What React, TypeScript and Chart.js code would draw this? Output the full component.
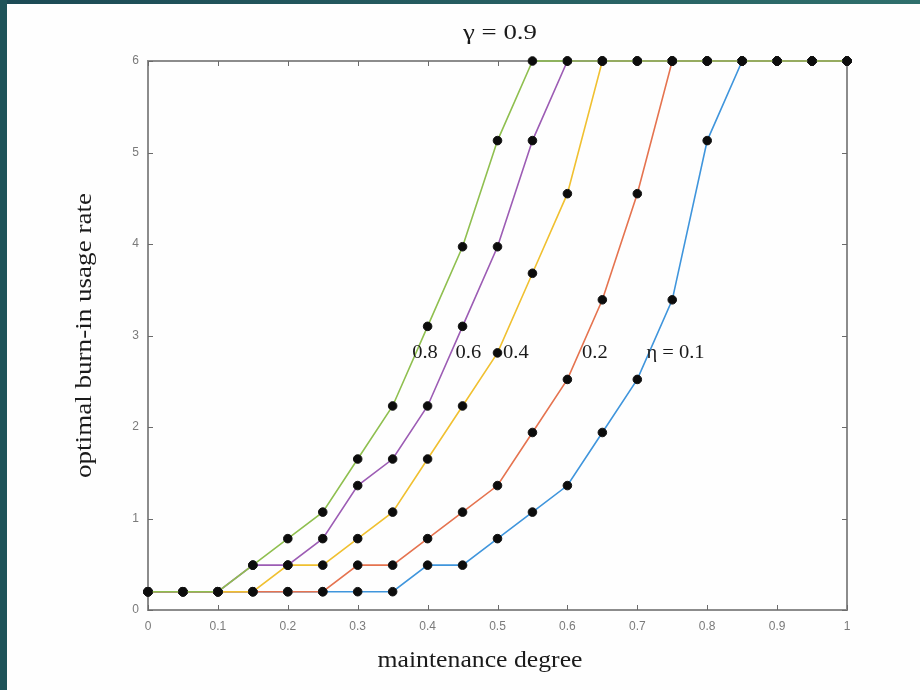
import React, { useEffect, useRef } from "react";
import { Chart, registerables } from "chart.js";

Chart.register(...registerables);

// ---- data ----
const xValues = [0, 0.05, 0.1, 0.15, 0.2, 0.25, 0.3, 0.35, 0.4, 0.45, 0.5, 0.55, 0.6, 0.65, 0.7, 0.75, 0.8, 0.85, 0.9, 0.95, 1];
const eta08 = [0.2, 0.2, 0.2, 0.49, 0.78, 1.07, 1.65, 2.23, 3.1, 3.97, 5.13, 6, 6, 6, 6, 6, 6, 6, 6, 6, 6];
const eta06 = [0.2, 0.2, 0.2, 0.49, 0.49, 0.78, 1.36, 1.65, 2.23, 3.1, 3.97, 5.13, 6, 6, 6, 6, 6, 6, 6, 6, 6];
const eta04 = [0.2, 0.2, 0.2, 0.2, 0.49, 0.49, 0.78, 1.07, 1.65, 2.23, 2.81, 3.68, 4.55, 6, 6, 6, 6, 6, 6, 6, 6];
const eta02 = [0.2, 0.2, 0.2, 0.2, 0.2, 0.2, 0.49, 0.49, 0.78, 1.07, 1.36, 1.94, 2.52, 3.39, 4.55, 6, 6, 6, 6, 6, 6];
const eta01 = [0.2, 0.2, 0.2, 0.2, 0.2, 0.2, 0.2, 0.2, 0.49, 0.49, 0.78, 1.07, 1.36, 1.94, 2.52, 3.39, 5.13, 6, 6, 6, 6];

const seriesNames = ["η = 0.8", "η = 0.6", "η = 0.4", "η = 0.2", "η = 0.1"];
const seriesValues = [eta08, eta06, eta04, eta02, eta01];
const seriesColors = ["#8fbf4f", "#9c5cb4", "#f0c030", "#e5734f", "#3f95dc"];

const curveLabels = ["0.8", "0.6", "0.4", "0.2", "η = 0.1"];
const curveLabelX = [0.378, 0.44, 0.508, 0.621, 0.713];
const curveLabelY = 2.81;

const xTicks = [0, 0.1, 0.2, 0.3, 0.4, 0.5, 0.6, 0.7, 0.8, 0.9, 1];
const xTickLabels = ["0", "0.1", "0.2", "0.3", "0.4", "0.5", "0.6", "0.7", "0.8", "0.9", "1"];
const yTicks = [0, 1, 2, 3, 4, 5, 6];
const yTickLabels = ["0", "1", "2", "3", "4", "5", "6"];

const chartTitle = "γ = 0.9";
const xTitle = "maintenance degree";
const yTitle = "optimal burn-in usage rate";

function drawText(
  ctx: CanvasRenderingContext2D,
  text: string,
  x: number,
  y: number,
  font: string,
  align: CanvasTextAlign,
  targetWidth: number | null,
  sx: number,
  rotate: number
) {
  ctx.save();
  ctx.font = font;
  ctx.fillStyle = "#1a1a1a";
  ctx.textBaseline = "middle";
  ctx.textAlign = align;
  const w = ctx.measureText(text).width;
  const scaleX = targetWidth ? targetWidth / w : sx;
  ctx.translate(x, y);
  if (rotate) ctx.rotate(rotate);
  ctx.scale(scaleX, 1);
  ctx.fillText(text, 0, 0);
  ctx.restore();
}

const framePlugin = {
  id: "frame",
  beforeDatasetsDraw(chart: any) {
    const { ctx, chartArea: a, scales } = chart;
    ctx.save();
    ctx.strokeStyle = "#8c8c8c";
    ctx.lineWidth = 2;
    ctx.strokeRect(a.left, a.top, a.right - a.left, a.bottom - a.top);
    ctx.strokeStyle = "#6a6a6a";
    ctx.lineWidth = 1;
    ctx.beginPath();
    xTicks.forEach((v) => {
      const px = Math.round(scales.x.getPixelForValue(v)) + 0.5;
      ctx.moveTo(px, a.bottom);
      ctx.lineTo(px, a.bottom - 5);
      ctx.moveTo(px, a.top);
      ctx.lineTo(px, a.top + 5);
    });
    yTicks.forEach((v) => {
      const py = Math.round(scales.y.getPixelForValue(v)) + 0.5;
      ctx.moveTo(a.left, py);
      ctx.lineTo(a.left + 5, py);
      ctx.moveTo(a.right, py);
      ctx.lineTo(a.right - 5, py);
    });
    ctx.stroke();
    ctx.restore();
  },
  afterDatasetsDraw(chart: any) {
    const { ctx, chartArea: a, scales } = chart;
    drawText(ctx, chartTitle, 500, 33, "21px 'Liberation Serif'", "center", 74, 1, 0);
    drawText(ctx, xTitle, 480, 661, "23px 'Liberation Serif'", "center", 205, 1, 0);
    drawText(ctx, yTitle, 85, (a.top + a.bottom) / 2, "23px 'Liberation Serif'", "center", 285, 1, -Math.PI / 2);
    curveLabels.forEach((t, i) => {
      const px = scales.x.getPixelForValue(curveLabelX[i]);
      const py = scales.y.getPixelForValue(curveLabelY);
      drawText(ctx, t, px, py, "19px 'Liberation Serif'", "left", null, 1.08, 0);
    });
  },
};

export default function App() {
  const ref = useRef<HTMLCanvasElement>(null);

  useEffect(() => {
    const canvas = ref.current;
    if (!canvas) return;
    const chart = new Chart(canvas, {
      type: "line",
      data: {
        datasets: seriesValues.map((vals, i) => ({
          label: seriesNames[i],
          data: xValues.map((x, j) => ({ x, y: vals[j] })),
          borderColor: seriesColors[i],
          borderWidth: 1.6,
          pointRadius: 4.3,
          pointBackgroundColor: "#0c0c0c",
          pointBorderColor: "#141414",
          pointBorderWidth: 1,
          tension: 0,
          clip: false as any,
        })),
      },
      options: {
        animation: false,
        responsive: false,
        maintainAspectRatio: false,
        devicePixelRatio: 1,
        layout: { padding: { left: 0, right: 73, top: 61, bottom: 0 } },
        plugins: {
          legend: { display: false },
          tooltip: { enabled: false },
          title: { display: false },
        },
        scales: {
          x: {
            type: "linear",
            min: 0,
            max: 1,
            afterFit: (s: any) => {
              s.height = 80;
            },
            afterBuildTicks: (s: any) => {
              s.ticks = xTicks.map((v) => ({ value: v }));
            },
            grid: { display: false, drawTicks: false },
            border: { display: false },
            ticks: {
              padding: 9,
              autoSkip: false,
              maxRotation: 0,
              color: "#7a7a7a",
              font: { family: "'Liberation Sans'", size: 12 },
              callback: (v: any) => {
                const k = xTicks.findIndex((t) => Math.abs(t - Number(v)) < 1e-9);
                return k >= 0 ? xTickLabels[k] : "";
              },
            },
          },
          y: {
            type: "linear",
            min: 0,
            max: 6,
            afterFit: (s: any) => {
              s.width = 148;
            },
            afterBuildTicks: (s: any) => {
              s.ticks = yTicks.map((v) => ({ value: v }));
            },
            grid: { display: false, drawTicks: false },
            border: { display: false },
            ticks: {
              padding: 9,
              color: "#7a7a7a",
              font: { family: "'Liberation Sans'", size: 12 },
              callback: (v: any) => {
                const k = yTicks.indexOf(Number(v));
                return k >= 0 ? yTickLabels[k] : "";
              },
            },
          },
        },
      },
      plugins: [framePlugin],
    });
    return () => chart.destroy();
  }, []);

  return (
    <div style={{ position: "absolute", left: 0, top: 0, width: 920, height: 690, background: "#fefefe", overflow: "hidden" }}>
      <div style={{ position: "absolute", left: 0, top: 0, width: 920, height: 4, background: "linear-gradient(90deg, #1c4a55, #2f6f6c)" }} />
      <div style={{ position: "absolute", left: 0, top: 0, width: 7, height: 690, background: "#1f5359" }} />
      <canvas ref={ref} width={920} height={690} style={{ position: "absolute", left: 0, top: 0, width: 920, height: 690 }} />
    </div>
  );
}
